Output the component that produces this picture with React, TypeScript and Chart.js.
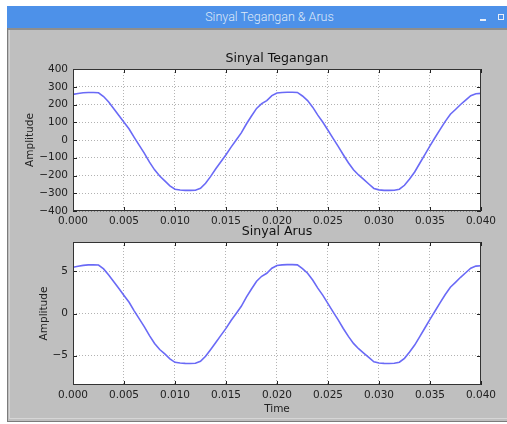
import { useEffect, useRef } from "react";
import { Chart, registerables } from "chart.js";

Chart.register(...registerables);

// ---------- data ----------
const time = [
  0, 0.0005, 0.001, 0.0015, 0.002, 0.0025, 0.003, 0.0035, 0.004, 0.0045,
  0.005, 0.0055, 0.006, 0.0065, 0.007, 0.0075, 0.008, 0.0085, 0.009, 0.0095,
  0.01, 0.0105, 0.011, 0.0115, 0.012, 0.0125, 0.013, 0.0135, 0.014, 0.0145,
  0.015, 0.0155, 0.016, 0.0165, 0.017, 0.0175, 0.018, 0.0185, 0.019, 0.0195,
  0.02, 0.0205, 0.021, 0.0215, 0.022, 0.0225, 0.023, 0.0235, 0.024, 0.0245,
  0.025, 0.0255, 0.026, 0.0265, 0.027, 0.0275, 0.028, 0.0285, 0.029, 0.0295,
  0.03, 0.0305, 0.031, 0.0315, 0.032, 0.0325, 0.033, 0.0335, 0.034, 0.0345,
  0.035, 0.0355, 0.036, 0.0365, 0.037, 0.0375, 0.038, 0.0385, 0.039, 0.0395,
  0.04,
];

const voltage = [
  257, 262, 266, 268, 268, 266, 245, 214, 176, 138,
  100, 62, 15, -30, -75, -125, -168, -203, -230, -258,
  -277, -282, -284, -284, -283, -272, -244, -205, -162, -122,
  -83, -40, 0, 40, 90, 135, 178, 205, 222, 250,
  265, 268, 269, 269, 268, 248, 222, 185, 140, 100,
  55, 9, -36, -83, -128, -168, -197, -222, -248, -273,
  -281, -284, -284, -283, -277, -255, -220, -180, -131, -82,
  -33, 14, 60, 105, 145, 172, 200, 225, 250, 261,
  263,
];

const current = [
  5.5, 5.62, 5.72, 5.77, 5.78, 5.76, 5.3, 4.58, 3.78, 2.98,
  2.15, 1.33, 0.32, -0.64, -1.58, -2.62, -3.55, -4.28, -4.8, -5.38,
  -5.8, -5.88, -5.92, -5.93, -5.9, -5.68, -5.08, -4.27, -3.44, -2.6,
  -1.77, -0.83, 0.0, 0.86, 1.94, 2.91, 3.83, 4.42, 4.78, 5.38,
  5.71, 5.78, 5.8, 5.8, 5.78, 5.34, 4.78, 3.98, 3.01, 2.15,
  1.18, 0.2, -0.76, -1.78, -2.72, -3.55, -4.18, -4.7, -5.22, -5.73,
  -5.88, -5.92, -5.93, -5.9, -5.78, -5.32, -4.58, -3.75, -2.74, -1.72,
  -0.7, 0.3, 1.29, 2.26, 3.12, 3.7, 4.3, 4.84, 5.38, 5.63,
  5.68,
];

const timeTicks = [0, 0.005, 0.01, 0.015, 0.02, 0.025, 0.03, 0.035, 0.04];
const voltageTicks = [-400, -300, -200, -100, 0, 100, 200, 300, 400];
const currentTicks = [-5, 0, 5];

const windowTitle = "Sinyal Tegangan & Arus";
const voltageTitle = "Sinyal Tegangan";
const currentTitle = "Sinyal Arus";
const yLabel = "Amplitude";
const xLabel = "Time";

// ---------- helpers ----------
const FONT = "'DejaVu Sans', Verdana, sans-serif";
const fmtY = (v: number) => (v < 0 ? "\u2212" + Math.abs(v) : String(v));
const GRID = "rgba(0,0,0,0.3)";

const axesDecor = {
  id: "axesDecor",
  beforeDraw(chart: any) {
    const { ctx, chartArea: a } = chart;
    ctx.save();
    ctx.fillStyle = "#ffffff";
    ctx.fillRect(a.left, a.top, a.right - a.left, a.bottom - a.top);
    ctx.restore();
  },
  afterDraw(chart: any) {
    const { ctx, chartArea: a, scales } = chart;
    const L = 4;
    ctx.save();
    ctx.strokeStyle = "#222";
    ctx.lineWidth = 1;
    ctx.beginPath();
    scales.x.ticks.forEach((t: any) => {
      const px = Math.round(scales.x.getPixelForValue(t.value)) + 0.5;
      ctx.moveTo(px, a.bottom);
      ctx.lineTo(px, a.bottom - L);
      ctx.moveTo(px, a.top);
      ctx.lineTo(px, a.top + L);
    });
    scales.y.ticks.forEach((t: any) => {
      const py = Math.round(scales.y.getPixelForValue(t.value)) + 0.5;
      ctx.moveTo(a.left, py);
      ctx.lineTo(a.left + L, py);
      ctx.moveTo(a.right, py);
      ctx.lineTo(a.right - L, py);
    });
    ctx.stroke();
    ctx.strokeStyle = "#333";
    ctx.strokeRect(
      Math.round(a.left) + 0.5,
      Math.round(a.top) + 0.5,
      Math.round(a.right - a.left) - 1,
      Math.round(a.bottom - a.top) - 1
    );
    ctx.restore();
  },
};

type PanelProps = {
  values: number[];
  title: string;
  yTicks: number[];
  yMin: number;
  yMax: number;
  showXTitle: boolean;
  left: number;
  top: number;
  width: number;
  height: number;
  titlePadTop: number;
  titlePadBottom: number;
  yAxisWidth: number;
  xAxisHeight: number;
  yTitlePad: number;
  xTitlePad: number;
};

function Panel(p: PanelProps) {
  const ref = useRef<HTMLCanvasElement | null>(null);
  useEffect(() => {
    if (!ref.current) return;
    const tickFont = { family: FONT, size: 10.5 };
    const chart = new Chart(ref.current, {
      type: "line",
      data: {
        datasets: [
          {
            data: time.map((t, i) => ({ x: t, y: p.values[i] })),
            borderColor: "#6a6af6",
            borderWidth: 1.6,
            pointRadius: 0,
            tension: 0,
            fill: false,
          },
        ],
      },
      plugins: [axesDecor],
      options: {
        responsive: false,
        animation: false,
        events: [],
        layout: { padding: 0 },
        plugins: {
          legend: { display: false },
          tooltip: { enabled: false },
          title: {
            display: true,
            text: p.title,
            color: "#111",
            fullSize: false,
            font: { family: FONT, size: 12.6, weight: "normal", lineHeight: 1.2 },
            padding: { top: p.titlePadTop, bottom: p.titlePadBottom },
          },
        },
        scales: {
          x: {
            type: "linear",
            min: 0,
            max: 0.04,
            afterBuildTicks: (s: any) => {
              s.ticks = timeTicks.map((v) => ({ value: v }));
            },
            afterFit: (s: any) => {
              s.height = p.xAxisHeight;
            },
            ticks: {
              autoSkip: false,
              maxRotation: 0,
              padding: 4,
              color: "#222",
              font: tickFont,
              callback: (v: any) => Number(v).toFixed(3),
            },
            grid: { color: GRID, lineWidth: 1, drawTicks: false },
            border: { display: false, dash: [1, 2] },
            title: {
              display: p.showXTitle,
              text: xLabel,
              color: "#222",
              font: { family: FONT, size: 10.5, lineHeight: 1.2 },
              padding: { top: 0, bottom: p.xTitlePad },
            },
          },
          y: {
            type: "linear",
            min: p.yMin,
            max: p.yMax,
            afterBuildTicks: (s: any) => {
              s.ticks = p.yTicks.map((v) => ({ value: v }));
            },
            afterFit: (s: any) => {
              s.width = p.yAxisWidth;
            },
            ticks: {
              autoSkip: false,
              padding: 5,
              color: "#222",
              font: tickFont,
              callback: (v: any) => fmtY(Number(v)),
            },
            grid: { color: GRID, lineWidth: 1, drawTicks: false },
            border: { display: false, dash: [1, 2] },
            title: {
              display: true,
              text: yLabel,
              color: "#222",
              font: { family: FONT, size: 10.5, lineHeight: 1.2 },
              padding: { top: p.yTitlePad, bottom: 0 },
            },
          },
        },
      } as any,
    });
    return () => chart.destroy();
  }, []);
  return (
    <canvas
      ref={ref}
      width={p.width}
      height={p.height}
      style={{ position: "absolute", left: p.left, top: p.top, width: p.width, height: p.height }}
    />
  );
}

export default function App() {
  return (
    <div
      style={{
        position: "fixed",
        left: 0,
        top: 0,
        width: 507,
        height: 424,
        background: "#ffffff",
        overflow: "hidden",
      }}
    >
      {/* window */}
      <div
        style={{
          position: "absolute",
          left: 7,
          top: 6,
          width: 502,
          height: 416,
          background: "#bfbfbf",
          boxSizing: "border-box",
          borderLeft: "1px solid #7c7c7c",
          borderBottom: "1px solid #7c7c7c",
        }}
      >
        {/* title bar */}
        <div
          style={{
            position: "absolute",
            left: -1,
            top: 0,
            width: 503,
            height: 22,
            background: "#4d91e9",
            color: "#dfe9f8",
            fontFamily: "Roboto, 'Noto Sans', sans-serif",
            fontSize: 12.5,
            fontWeight: 300,
            lineHeight: "22px",
            textAlign: "center",
            paddingLeft: 22,
            boxSizing: "border-box",
          }}
        >
          {windowTitle}
        </div>
        <div style={{ position: "absolute", left: 472, top: 12.5, width: 6, height: 2, background: "#e8eef8" }} />
        <div
          style={{
            position: "absolute",
            left: 490,
            top: 8,
            width: 6,
            height: 6,
            boxSizing: "border-box",
            border: "1.5px solid #e8eef8",
          }}
        />
        {/* frame under the bar */}
        <div style={{ position: "absolute", left: 0, top: 22, width: 502, height: 2, background: "#8e8e8e" }} />
        <div
          style={{
            position: "absolute",
            left: 1,
            top: 24,
            width: 501,
            height: 389,
            boxSizing: "border-box",
            borderLeft: "1px solid #d6d6d6",
            borderBottom: "1px solid #d6d6d6",
          }}
        />
      </div>

      <Panel
        values={voltage}
        title={voltageTitle}
        yTicks={voltageTicks}
        yMin={-400}
        yMax={400}
        showXTitle={false}
        left={10}
        top={30}
        width={490}
        height={200}
        titlePadTop={21.4}
        titlePadBottom={2.5}
        yAxisWidth={63}
        xAxisHeight={19}
        yTitlePad={13.7}
        xTitlePad={0}
      />
      <Panel
        values={current}
        title={currentTitle}
        yTicks={currentTicks}
        yMin={-8.49}
        yMax={8.49}
        showXTitle={true}
        left={10}
        top={215}
        width={490}
        height={205}
        titlePadTop={9.4}
        titlePadBottom={2.5}
        yAxisWidth={63}
        xAxisHeight={35}
        yTitlePad={27.7}
        xTitlePad={4.8}
      />
    </div>
  );
}
